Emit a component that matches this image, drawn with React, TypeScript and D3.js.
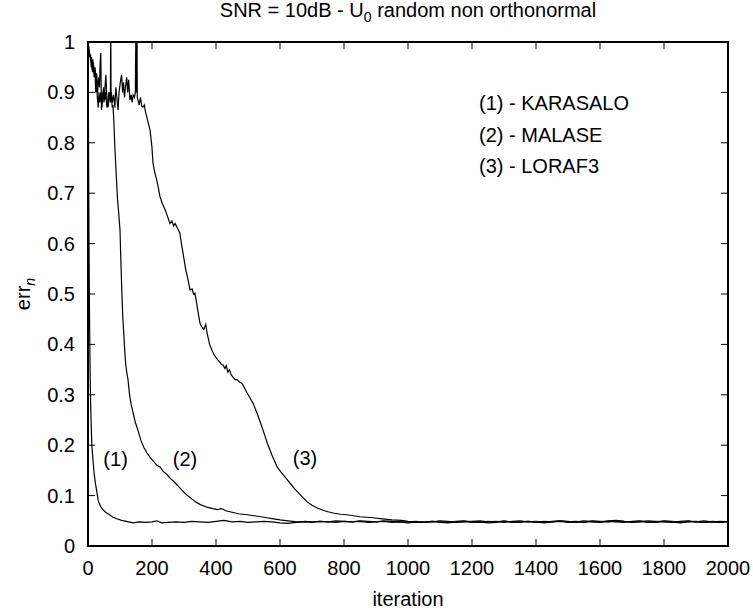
import React from "react";
import * as d3 from "d3";

const W = 753;
const H = 613;

const xTicks = [0, 200, 400, 600, 800, 1000, 1200, 1400, 1600, 1800, 2000];
const yTicks = [0, 0.1, 0.2, 0.3, 0.4, 0.5, 0.6, 0.7, 0.8, 0.9, 1];

const legendLabels = ["(1) - KARASALO", "(2) - MALASE", "(3) - LORAF3"];

const karasaloHead: [number, number][] = [
  [0, 1.0], [1, 0.9], [2, 0.75], [3, 0.62], [4, 0.52], [5, 0.44], [6, 0.38], [7, 0.33],
  [8, 0.29], [10, 0.24], [12, 0.2], [15, 0.175], [19, 0.145], [23, 0.125], [27, 0.11],
  [32, 0.09], [38, 0.08], [45, 0.073], [55, 0.067], [65, 0.063], [78, 0.057], [90, 0.054],
  [105, 0.051], [120, 0.049], [141, 0.046], [160, 0.048], [180, 0.047], [200, 0.048],
  [215, 0.05], [230, 0.046], [250, 0.047], [275, 0.048], [300, 0.047], [325, 0.049],
  [350, 0.048], [375, 0.047], [400, 0.049], [425, 0.051], [450, 0.048], [475, 0.049],
  [500, 0.047], [525, 0.048], [550, 0.049], [575, 0.048], [600, 0.046], [625, 0.045],
  [650, 0.047], [675, 0.048], [700, 0.047], [725, 0.049], [750, 0.048], [775, 0.047],
  [800, 0.049], [825, 0.048], [850, 0.049], [875, 0.047], [900, 0.048], [925, 0.049],
  [950, 0.047], [975, 0.048],
];

const malaseHead: [number, number][] = [
  [0, 1.0], [3, 0.985], [6, 0.975], [9, 0.96], [11, 0.97], [13, 0.945], [15, 0.965],
  [17, 0.955], [20, 0.935], [22, 0.95], [25, 0.92], [27, 0.938], [30, 0.9], [33, 0.93],
  [36, 0.91], [38, 0.96], [40, 0.978], [42, 0.865], [44, 0.88], [47, 0.9], [50, 0.88],
  [53, 0.91], [56, 0.935], [58, 0.9], [60, 0.88], [63, 0.871], [66, 0.89], [68, 0.9],
  [70, 0.88], [71, 1.05], [72, 0.9], [74, 0.885], [76, 0.87], [78, 0.875], [81, 0.84],
  [84, 0.79], [88, 0.74], [92, 0.69], [96, 0.66], [100, 0.627], [103, 0.56], [106, 0.5],
  [109, 0.45], [112, 0.42], [115, 0.385], [118, 0.36], [121, 0.345], [125, 0.33],
  [130, 0.3], [135, 0.28], [141, 0.264], [148, 0.245], [156, 0.23], [165, 0.21],
  [175, 0.195], [184, 0.185], [195, 0.175], [205, 0.168], [215, 0.16], [225, 0.157],
  [235, 0.148], [245, 0.143], [256, 0.135], [268, 0.128], [280, 0.12], [295, 0.11],
  [309, 0.101], [325, 0.093], [340, 0.086], [355, 0.081], [372, 0.077], [390, 0.074],
  [405, 0.072], [415, 0.074], [422, 0.073], [430, 0.07], [450, 0.067], [470, 0.064],
  [497, 0.062], [520, 0.06], [540, 0.058], [559, 0.056], [580, 0.054], [600, 0.052],
  [625, 0.05], [653, 0.048], [680, 0.049], [700, 0.048], [725, 0.049], [750, 0.048],
  [775, 0.05], [800, 0.049], [825, 0.048], [850, 0.05], [875, 0.049], [900, 0.048],
  [925, 0.05], [950, 0.049], [975, 0.048],
];

const loraf3Head: [number, number][] = [
  [0, 1.0], [2, 0.99], [5, 0.97], [8, 0.975], [10, 0.95], [12, 0.965], [14, 0.94],
  [17, 0.958], [19, 0.93], [22, 0.945], [24, 0.9], [27, 0.92], [29, 0.89], [32, 0.87],
  [34, 0.9], [37, 0.88], [40, 0.9], [43, 0.87], [46, 0.895], [49, 0.91], [52, 0.885],
  [55, 0.9], [59, 0.87], [62, 0.88], [65, 0.9], [69, 0.885], [73, 0.9], [76, 0.88],
  [80, 0.895], [84, 0.87], [87, 0.91], [90, 0.891], [94, 0.865], [97, 0.9], [101, 0.92],
  [105, 0.935], [108, 0.9], [111, 0.92], [114, 0.89], [117, 0.91], [121, 0.93],
  [124, 0.9], [127, 0.925], [131, 0.885], [135, 0.895], [138, 0.88], [141, 0.895],
  [145, 0.89], [148, 0.9], [150, 1.05], [151, 0.9], [153, 1.05], [154, 0.89],
  [156, 0.885], [160, 0.875], [164, 0.89], [168, 0.872], [172, 0.871], [176, 0.875],
  [180, 0.86], [184, 0.851], [188, 0.84], [194, 0.825], [200, 0.79], [203, 0.76],
  [209, 0.74], [215, 0.726], [220, 0.71], [225, 0.693], [232, 0.68], [241, 0.667],
  [248, 0.655], [256, 0.64], [262, 0.645], [268, 0.635], [272, 0.64], [280, 0.63],
  [287, 0.621], [292, 0.6], [297, 0.581], [305, 0.55], [312, 0.53], [319, 0.508],
  [325, 0.51], [330, 0.5], [334, 0.502], [340, 0.48], [345, 0.46], [350, 0.442],
  [355, 0.435], [362, 0.43], [368, 0.44], [372, 0.423], [380, 0.4], [387, 0.389],
  [395, 0.378], [405, 0.37], [413, 0.364], [418, 0.36], [422, 0.359], [428, 0.352],
  [432, 0.358], [437, 0.345], [442, 0.35], [447, 0.34], [453, 0.335], [460, 0.33],
  [466, 0.33], [474, 0.325], [481, 0.323], [488, 0.315], [497, 0.304], [505, 0.295],
  [516, 0.283], [528, 0.264], [537, 0.248], [547, 0.23], [560, 0.205], [575, 0.18],
  [591, 0.157], [605, 0.145], [618, 0.135], [631, 0.125], [645, 0.114], [660, 0.104],
  [672, 0.096], [684, 0.088], [700, 0.081], [718, 0.075], [734, 0.071], [750, 0.068],
  [770, 0.065], [790, 0.063], [809, 0.062], [830, 0.06], [850, 0.058], [870, 0.057],
  [891, 0.056], [920, 0.054], [950, 0.052], [980, 0.051],
];

const tailIter = d3.range(1000, 2001, 25);

const karasaloTail = [
  0.046, 0.048, 0.047, 0.049, 0.047, 0.046, 0.048, 0.049, 0.047, 0.048,
  0.046, 0.047, 0.049, 0.048, 0.047, 0.049, 0.048, 0.046, 0.048, 0.049,
  0.047, 0.048, 0.05, 0.048, 0.047, 0.049, 0.048, 0.047, 0.049, 0.05,
  0.048, 0.047, 0.049, 0.048, 0.046, 0.048, 0.049, 0.047, 0.048, 0.047, 0.048,
];
const malaseTail = [
  0.048, 0.049, 0.047, 0.048, 0.05, 0.049, 0.047, 0.048, 0.049, 0.05,
  0.048, 0.049, 0.047, 0.049, 0.05, 0.048, 0.049, 0.047, 0.049, 0.05,
  0.049, 0.047, 0.048, 0.05, 0.049, 0.048, 0.05, 0.049, 0.047, 0.048,
  0.05, 0.049, 0.048, 0.047, 0.049, 0.05, 0.048, 0.047, 0.049, 0.048, 0.049,
];
const loraf3Tail = [
  0.049, 0.047, 0.048, 0.049, 0.048, 0.047, 0.049, 0.05, 0.048, 0.047,
  0.049, 0.048, 0.05, 0.047, 0.048, 0.049, 0.047, 0.049, 0.048, 0.05,
  0.048, 0.049, 0.047, 0.049, 0.048, 0.05, 0.051, 0.049, 0.048, 0.049,
  0.047, 0.048, 0.05, 0.049, 0.047, 0.049, 0.048, 0.05, 0.048, 0.049, 0.048,
];

const curveLabels = [
  { text: "(1)", it: 48, v: 0.158 },
  { text: "(2)", it: 265, v: 0.158 },
  { text: "(3)", it: 640, v: 0.16 },
];

const FONT = "'Liberation Sans', Arial, Helvetica, sans-serif";

const margin = { left: 88, right: 25, top: 42, bottom: 67 };

export default function App() {
  const x = d3.scaleLinear().domain([0, 2000]).range([margin.left, W - margin.right]);
  const y = d3.scaleLinear().domain([0, 1]).range([H - margin.bottom, margin.top]);
  const line = d3
    .line<[number, number]>()
    .x((d) => x(d[0]))
    .y((d) => y(d[1]));

  const withTail = (head: [number, number][], tail: number[]) =>
    head.concat(tailIter.map((it, i) => [it, tail[i]] as [number, number]));

  const series = [
    withTail(karasaloHead, karasaloTail),
    withTail(malaseHead, malaseTail),
    withTail(loraf3Head, loraf3Tail),
  ];

  const x0 = x(0), x1 = x(2000), y0 = y(0), y1 = y(1);
  const tl = 7;
  const fs = 20;

  return (
    <svg
      width={W}
      height={H}
      style={{ position: "absolute", left: 0, top: 0, background: "#fff" }}
      fontFamily={FONT}
    >
      <rect x={0} y={0} width={W} height={H} fill="#fff" />
      <defs>
        <clipPath id="plotclip">
          <rect x={x0} y={y1} width={x1 - x0} height={y0 - y1} />
        </clipPath>
      </defs>

      {/* ticks */}
      {xTicks.map((t) => (
        <g key={"xt" + t}>
          <line x1={x(t)} x2={x(t)} y1={y0} y2={y0 - tl} stroke="#000" strokeWidth={1} />
          <line x1={x(t)} x2={x(t)} y1={y1} y2={y1 + tl} stroke="#000" strokeWidth={1} />
          <text x={x(t)} y={y0 + 29} textAnchor="middle" fontSize={fs} fill="#000">
            {t}
          </text>
        </g>
      ))}
      {yTicks.map((t) => (
        <g key={"yt" + t}>
          <line x1={x0} x2={x0 + tl} y1={y(t)} y2={y(t)} stroke="#000" strokeWidth={1} />
          <line x1={x1} x2={x1 - tl} y1={y(t)} y2={y(t)} stroke="#000" strokeWidth={1} />
          <text x={x0 - 13} y={y(t) + 7} textAnchor="end" fontSize={fs} fill="#000">
            {String(t)}
          </text>
        </g>
      ))}

      {/* curves */}
      <g clipPath="url(#plotclip)">
        {series.map((s, i) => (
          <path key={i} d={line(s) || ""} fill="none" stroke="#000" strokeWidth={1.2} />
        ))}
      </g>

      {/* border */}
      <rect x={x0} y={y1} width={x1 - x0} height={y0 - y1} fill="none" stroke="#000" strokeWidth={2} />

      {/* curve labels */}
      {curveLabels.map((c) => (
        <text key={c.text} x={x(c.it)} y={y(c.v)} fontSize={fs} fill="#000">
          {c.text}
        </text>
      ))}

      {/* legend */}
      {legendLabels.map((l, i) => (
        <text key={l} x={479} y={110 + i * 31.5} fontSize={fs} fill="#000">
          {l}
        </text>
      ))}

      {/* title */}
      <text x={(x0 + x1) / 2} y={17} textAnchor="middle" fontSize={fs} fill="#000">
        SNR = 10dB - U
        <tspan fontSize={14} dy={5}>0</tspan>
        <tspan dy={-5}> random non orthonormal</tspan>
      </text>

      {/* axis labels */}
      <text x={(x0 + x1) / 2} y={H - 7} textAnchor="middle" fontSize={fs} fill="#000">
        iteration
      </text>
      <text
        transform={`translate(${30},${(y0 + y1) / 2}) rotate(-90)`}
        textAnchor="middle"
        fontSize={fs}
        fill="#000"
      >
        err
        <tspan fontSize={14} dy={5} fontStyle="italic">n</tspan>
      </text>
    </svg>
  );
}
